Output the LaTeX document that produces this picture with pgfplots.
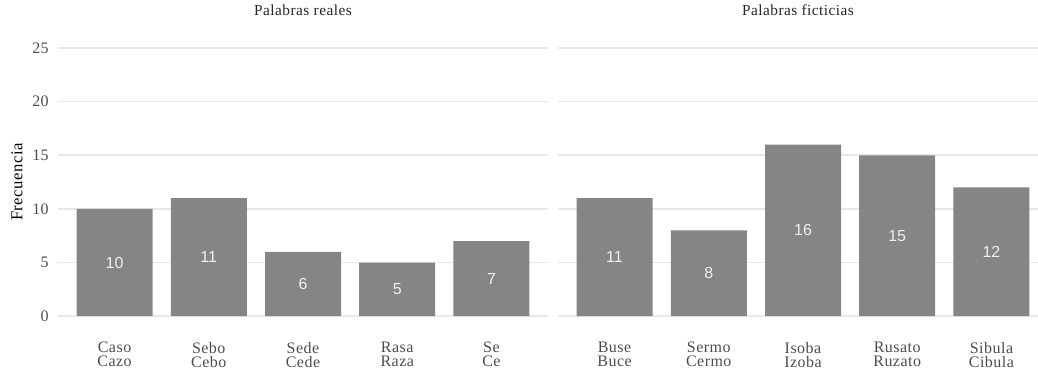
\documentclass[border=0pt]{standalone}
\usepackage{fontspec}
\setmainfont{Liberation Serif}[LetterSpace=3]
\newfontfamily\valfont{Liberation Sans}
\usepackage{pgfplots}
\usepackage{pgfplotstable}
\pgfplotsset{compat=1.18}
\definecolor{barg}{RGB}{133,133,133}
\definecolor{gridg}{RGB}{232,232,232}
\definecolor{txtg}{RGB}{77,77,77}
\definecolor{valc}{RGB}{240,240,240}
\pgfplotstableread{
x y
1 10
2 11
3 6
4 5
5 7
}\datareal
\pgfplotstableread{
x y
1 11
2 8
3 16
4 15
5 12
}\datafict
\pgfplotsset{
  panel/.style={
    scale only axis,
    height=221.25pt,
    xmin=0.4,
    ymin=-1.25, ymax=26.25,
    axis line style={draw=none},
    major tick length=0pt,
    ymajorgrids=true,
    grid style={gridg, line width=1.2pt},
    xtick={1,2,3,4,5},
    ytick={0,5,10,15,20,25},
    /pgf/number format/assume math mode=true,
    tick label style={font=\fontsize{12}{10.5}\selectfont, text=txtg},
    xticklabel style={align=center, anchor=north, inner sep=0pt, yshift=-9.2pt},
    yticklabel style={anchor=east, inner sep=0pt, xshift=-6.75pt},
    title style={at={(0.5,1)}, anchor=center, yshift=12.45pt, font=\fontsize{11.5}{12}\selectfont, text=black!85},
    clip=false,
  },
  barplot/.style={ybar, bar width=57pt, bar shift=0pt, fill=barg, draw=none},
  valplot/.style={draw=none, mark=none, nodes near coords, point meta=explicit,
    nodes near coords align=center,
    nodes near coords style={anchor=center, font=\valfont\fontsize{12}{12}\selectfont, text=valc}},
}
\begin{document}
\begin{tikzpicture}
\useasboundingbox (-43.5pt,-29.55pt) rectangle (735pt,247.2pt);
\begin{axis}[panel, width=367.5pt, xmax=5.6,
  xticklabels={{Caso\\Cazo},{Sebo\\Cebo},{Sede\\Cede},{Rasa\\Raza},{Se\\Ce}},
  title={Palabras reales},
  ylabel={Frecuencia},
  ylabel style={at={(axis description cs:-0.0837,0.5)}, anchor=center, font=\fontsize{12.5}{14}\selectfont, text=black},
]
\addplot[barplot] table[x=x,y=y] {\datareal};
\addplot[valplot] table[x=x, y expr=\thisrow{y}/2, meta=y] {\datareal};
\end{axis}
\begin{axis}[panel, at={(375pt,0pt)}, width=360pt, xmax=5.494,
  xticklabels={{Buse\\Buce},{Sermo\\Cermo},{Isoba\\Izoba},{Rusato\\Ruzato},{Sibula\\Cibula}},
  yticklabels={},
  title={Palabras ficticias},
]
\addplot[barplot] table[x=x,y=y] {\datafict};
\addplot[valplot] table[x=x, y expr=\thisrow{y}/2, meta=y] {\datafict};
\end{axis}
\end{tikzpicture}
\end{document}
